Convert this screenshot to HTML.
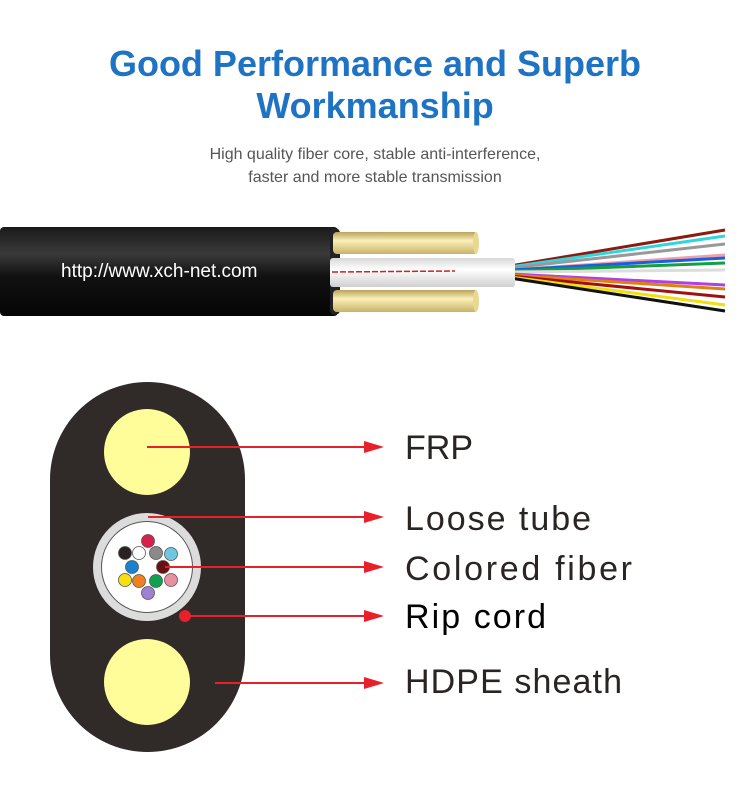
<!DOCTYPE html>
<html><head><meta charset="utf-8"><style>
html,body{margin:0;padding:0;background:#fff;}
body{width:750px;height:788px;overflow:hidden;position:relative;font-family:"Liberation Sans",sans-serif;}
</style></head><body>
<svg width="750" height="788" viewBox="0 0 750 788" xmlns="http://www.w3.org/2000/svg" style="position:absolute;left:0;top:0">
<defs>
<linearGradient id="blk" x1="0" y1="0" x2="0" y2="1">
<stop offset="0" stop-color="#1a1a1a"/><stop offset="0.3" stop-color="#3a3a3a"/><stop offset="0.55" stop-color="#111"/><stop offset="1" stop-color="#050505"/>
</linearGradient>
<linearGradient id="rod" x1="0" y1="0" x2="0" y2="1">
<stop offset="0" stop-color="#b9a35a"/><stop offset="0.4" stop-color="#fbf0b8"/><stop offset="1" stop-color="#c8b36a"/>
</linearGradient>
<linearGradient id="tube" x1="0" y1="0" x2="0" y2="1">
<stop offset="0" stop-color="#d8d8d8"/><stop offset="0.4" stop-color="#fff"/><stop offset="1" stop-color="#cfcfcf"/>
</linearGradient>
</defs>
<text x="375" y="76" text-anchor="middle" font-family="Liberation Sans" font-weight="bold" font-size="36" fill="#1f73c4">Good Performance and Superb</text>
<text x="375" y="118" text-anchor="middle" font-family="Liberation Sans" font-weight="bold" font-size="36" fill="#1f73c4">Workmanship</text>
<text x="375" y="159" text-anchor="middle" font-family="Liberation Sans" font-size="16" fill="#555">High quality fiber core, stable anti-interference,</text>
<text x="375" y="182" text-anchor="middle" font-family="Liberation Sans" font-size="16" fill="#555">faster and more stable transmission</text>

<g stroke-width="3" fill="none">
<path d="M510 266 L725 230" stroke="#8b1a10"/>
<path d="M510 267 L725 236" stroke="#2fd6e0"/>
<path d="M510 268 L725 244" stroke="#999"/>
<path d="M510 270 L725 255" stroke="#f0a0a8"/>
<path d="M510 270 L725 258" stroke="#1860e0"/>
<path d="M510 271 L725 263" stroke="#14a040"/>
<path d="M510 272 L725 270" stroke="#ddd"/>
<path d="M510 274 L725 285" stroke="#b040e0"/>
<path d="M510 275 L725 289" stroke="#e08010"/>
<path d="M510 276 L725 297" stroke="#a01010"/>
<path d="M510 277 L725 305" stroke="#f0e010"/>
<path d="M510 278 L725 311" stroke="#111"/>
</g>
<rect x="0" y="227" width="338" height="89" rx="4" fill="url(#blk)"/>
<rect x="330" y="228" width="10" height="87" rx="5" fill="#222"/>
<rect x="333" y="232" width="145" height="22" rx="4" fill="url(#rod)"/>
<ellipse cx="476" cy="243" rx="3" ry="11" fill="#e9d88f"/>
<rect x="333" y="290" width="145" height="22" rx="4" fill="url(#rod)"/>
<ellipse cx="476" cy="301" rx="3" ry="11" fill="#e9d88f"/>
<rect x="330" y="258" width="185" height="29" rx="3" fill="url(#tube)"/>
<path d="M332 272 L455 271" stroke="#d02020" stroke-width="1.5" stroke-dasharray="6 2"/>
<text x="61" y="277" font-family="Liberation Sans" font-size="19" fill="#fff">http://www.xch-net.com</text>

<rect x="50" y="382" width="195" height="370" rx="97.5" fill="#302a28"/>
<circle cx="147" cy="452" r="43" fill="#fffd9a"/>
<circle cx="147" cy="682" r="43" fill="#fffd9a"/>
<circle cx="147" cy="567" r="54" fill="#dcdcdc"/>
<circle cx="147" cy="567" r="46" fill="#555"/>
<circle cx="147" cy="567" r="45" fill="#fff"/>
<g stroke="#555" stroke-width="0.8">
<circle cx="148" cy="541" r="6.5" fill="#d8204a"/>
<circle cx="125" cy="553" r="6.5" fill="#2a2222"/>
<circle cx="139" cy="553" r="6.5" fill="#fff"/>
<circle cx="156" cy="553" r="6.5" fill="#8a8a8a"/>
<circle cx="171" cy="554" r="6.5" fill="#6ec8e0"/>
<circle cx="132" cy="567" r="6.5" fill="#1a80d0"/>
<circle cx="163" cy="567" r="6.5" fill="#6a1010"/>
<circle cx="125" cy="580" r="6.5" fill="#f8e010"/>
<circle cx="139" cy="581" r="6.5" fill="#f08020"/>
<circle cx="156" cy="581" r="6.5" fill="#10a050"/>
<circle cx="171" cy="580" r="6.5" fill="#e890a0"/>
<circle cx="148" cy="593" r="6.5" fill="#a080d0"/>
</g>
<circle cx="185" cy="616" r="6" fill="#e8202a"/>
<g stroke="#e8202a" stroke-width="2" fill="#e8202a">
<line x1="147" y1="447" x2="372" y2="447"/><path d="M364 441 L384 447 L364 453 Z" stroke="none"/>
<line x1="148" y1="517" x2="372" y2="517"/><path d="M364 511 L384 517 L364 523 Z" stroke="none"/>
<line x1="165" y1="567" x2="372" y2="567"/><path d="M364 561 L384 567 L364 573 Z" stroke="none"/>
<line x1="185" y1="616" x2="372" y2="616"/><path d="M364 610 L384 616 L364 622 Z" stroke="none"/>
<line x1="215" y1="683" x2="372" y2="683"/><path d="M364 677 L384 683 L364 689 Z" stroke="none"/>
</g>
<g font-family="Liberation Sans" font-size="34" fill="#2a2523">
<text x="405" y="459">FRP</text>
<text x="405" y="530" textLength="186">Loose tube</text>
<text x="405" y="580" textLength="227">Colored fiber</text>
<text x="405" y="628" textLength="141" fill="#000">Rip cord</text>
<text x="405" y="693" textLength="217">HDPE sheath</text>
</g>
</svg>
</body></html>
